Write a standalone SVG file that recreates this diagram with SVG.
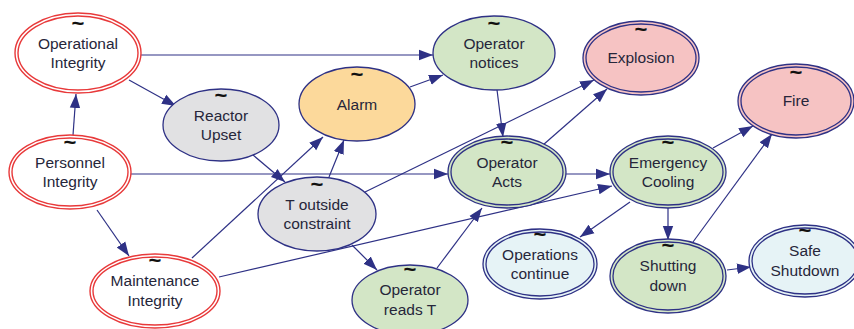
<svg xmlns="http://www.w3.org/2000/svg" width="854" height="329" viewBox="0 0 854 329">
<style>
.e{stroke:#2e3185;stroke-width:1.2;fill:none}
.nv{stroke:#2e3185;stroke-width:1.3}
.rd{stroke:#e8393a;stroke-width:1.4}
.in{fill:none}
.gray{fill:#e1e1e3}
.org{fill:#fcd99b}
.grn{fill:#d3e6c6}
.pnk{fill:#f6c3c3}
.blu{fill:#e6f3f6}
.wht{fill:#ffffff}
text{font-family:"Liberation Sans",Arial,sans-serif;font-size:15.5px;fill:#26263a;text-anchor:middle}
.t{font-size:22px;font-weight:bold;fill:#111}
</style>
<defs>
<marker id="a" markerUnits="userSpaceOnUse" markerWidth="15" markerHeight="12" refX="14" refY="6" orient="auto">
<path d="M0,0.8 L14,6 L0,11.2 z" fill="#2e3185"/>
</marker>
</defs>
<g id="connectors">
<path class="e" marker-end="url(#a)" d="M141,55 L433,55"/>
<path class="e" marker-end="url(#a)" d="M129,80 L176,106"/>
<path class="e" marker-end="url(#a)" d="M73,135 L76,94"/>
<path class="e" marker-end="url(#a)" d="M131,174 L448,174"/>
<path class="e" marker-end="url(#a)" d="M97,210 L129,256"/>
<path class="e" marker-end="url(#a)" d="M253,155 L285,182"/>
<path class="e" marker-end="url(#a)" d="M192,258 L323,137"/>
<path class="e" marker-end="url(#a)" d="M329,177 L344,140"/>
<path class="e" marker-end="url(#a)" d="M410,87 L443,75"/>
<path class="e" marker-end="url(#a)" d="M497,90 L503,137"/>
<path class="e" marker-end="url(#a)" d="M365,192 L594,80"/>
<path class="e" marker-end="url(#a)" d="M543,145 L607,89"/>
<path class="e" marker-end="url(#a)" d="M566,174 L610,174"/>
<path class="e" marker-end="url(#a)" d="M219,277 L612,186"/>
<path class="e" marker-end="url(#a)" d="M437,268 L482,208"/>
<path class="e" marker-end="url(#a)" d="M352,245 L377,270"/>
<path class="e" marker-end="url(#a)" d="M713,148 L753,126"/>
<path class="e" marker-end="url(#a)" d="M693,242 L772,134"/>
<path class="e" marker-end="url(#a)" d="M630,202 L580,237"/>
<path class="e" marker-end="url(#a)" d="M668,208 L668,240"/>
<path class="e" marker-end="url(#a)" d="M727,270 L751,267"/>
</g>
<g id="operational-integrity">
<ellipse class="rd wht" cx="78" cy="53" rx="63" ry="40"/>
<ellipse class="rd in" cx="78" cy="53" rx="60" ry="37"/>
<text class="t" x="78" y="31">~</text>
<text x="78" y="49">Operational</text>
<text x="78" y="68">Integrity</text>
</g>
<g id="reactor-upset">
<ellipse class="nv gray" cx="221" cy="125" rx="58" ry="36"/>
<text class="t" x="221" y="103">~</text>
<text x="221" y="121">Reactor</text>
<text x="221" y="140">Upset</text>
</g>
<g id="personnel-integrity">
<ellipse class="rd wht" cx="70" cy="172" rx="61" ry="37"/>
<ellipse class="rd in" cx="70" cy="172" rx="58" ry="34"/>
<text class="t" x="70" y="150">~</text>
<text x="70" y="168">Personnel</text>
<text x="70" y="187">Integrity</text>
</g>
<g id="maintenance-integrity">
<ellipse class="rd wht" cx="155" cy="291" rx="65" ry="37"/>
<ellipse class="rd in" cx="155" cy="291" rx="62" ry="34"/>
<text class="t" x="155" y="268">~</text>
<text x="155" y="286">Maintenance</text>
<text x="155" y="306">Integrity</text>
</g>
<g id="alarm">
<ellipse class="nv org" cx="357" cy="104" rx="58" ry="37"/>
<text class="t" x="357" y="82">~</text>
<text x="357" y="110">Alarm</text>
</g>
<g id="operator-notices">
<ellipse class="nv grn" cx="494" cy="53" rx="61" ry="37"/>
<text class="t" x="494" y="31">~</text>
<text x="494" y="49">Operator</text>
<text x="494" y="68">notices</text>
</g>
<g id="explosion">
<ellipse class="nv pnk" cx="641" cy="58" rx="58" ry="37"/>
<ellipse class="nv in" cx="641" cy="58" rx="55" ry="34"/>
<text class="t" x="641" y="37">~</text>
<text x="641" y="63">Explosion</text>
</g>
<g id="fire">
<ellipse class="nv pnk" cx="796" cy="101" rx="58" ry="37"/>
<ellipse class="nv in" cx="796" cy="101" rx="55" ry="34"/>
<text class="t" x="796" y="80">~</text>
<text x="796" y="106">Fire</text>
</g>
<g id="operator-acts">
<ellipse class="nv grn" cx="507" cy="172" rx="59" ry="36"/>
<ellipse class="nv in" cx="507" cy="172" rx="56" ry="33"/>
<text class="t" x="507" y="150">~</text>
<text x="507" y="168">Operator</text>
<text x="507" y="187">Acts</text>
</g>
<g id="emergency-cooling">
<ellipse class="nv grn" cx="668" cy="172" rx="58" ry="36"/>
<ellipse class="nv in" cx="668" cy="172" rx="55" ry="33"/>
<text class="t" x="668" y="150">~</text>
<text x="668" y="168">Emergency</text>
<text x="668" y="187">Cooling</text>
</g>
<g id="t-outside-constraint">
<ellipse class="nv gray" cx="317" cy="214" rx="59" ry="37"/>
<text class="t" x="317" y="192">~</text>
<text x="317" y="210">T outside</text>
<text x="317" y="229">constraint</text>
</g>
<g id="operator-reads-t">
<ellipse class="nv grn" cx="410" cy="300" rx="58" ry="35"/>
<text class="t" x="410" y="277">~</text>
<text x="410" y="295">Operator</text>
<text x="410" y="315">reads T</text>
</g>
<g id="operations-continue">
<ellipse class="nv blu" cx="540" cy="264" rx="57" ry="35"/>
<ellipse class="nv in" cx="540" cy="264" rx="54" ry="32"/>
<text class="t" x="540" y="242">~</text>
<text x="540" y="260">Operations</text>
<text x="540" y="279">continue</text>
</g>
<g id="shutting-down">
<ellipse class="nv grn" cx="668" cy="276" rx="58" ry="37"/>
<ellipse class="nv in" cx="668" cy="276" rx="55" ry="34"/>
<text class="t" x="668" y="253">~</text>
<text x="668" y="271">Shutting</text>
<text x="668" y="291">down</text>
</g>
<g id="safe-shutdown">
<ellipse class="nv blu" cx="805" cy="261" rx="56" ry="36"/>
<ellipse class="nv in" cx="805" cy="261" rx="53" ry="33"/>
<text class="t" x="805" y="238">~</text>
<text x="805" y="256">Safe</text>
<text x="805" y="276">Shutdown</text>
</g>
</svg>
